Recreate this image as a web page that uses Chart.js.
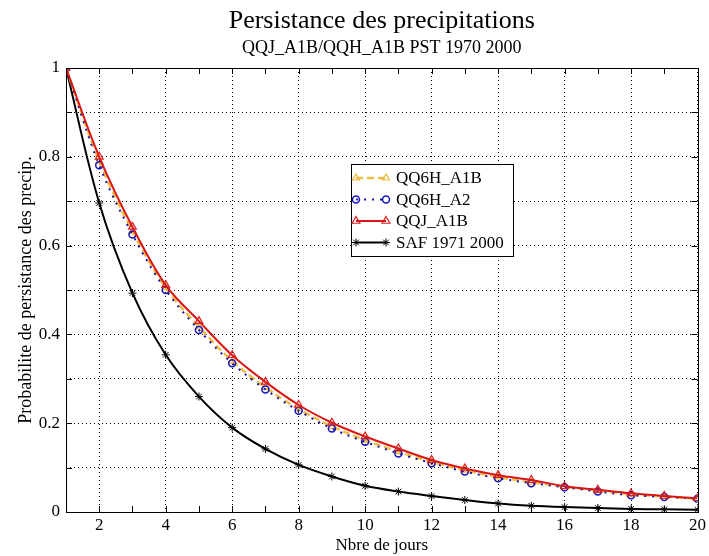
<!DOCTYPE html>
<html>
<head>
<meta charset="utf-8">
<script src="https://cdn.jsdelivr.net/npm/chart.js@4/dist/chart.umd.min.js"></script>
<style>
  html, body { margin: 0; padding: 0; background: #fff; }
  #wrap { width: 709px; height: 556px; position: relative; }
</style>
</head>
<body>
<div id="wrap"><canvas id="chart"></canvas></div>
<script>
// days 1..20
const days = [1, 2, 3, 4, 5, 6, 7, 8, 9, 10, 11, 12, 13, 14, 15, 16, 17, 18, 19, 20];

const qq6hA1B = [1.0, 0.79, 0.632, 0.505, 0.417, 0.34, 0.281, 0.232, 0.193, 0.162, 0.136, 0.113, 0.094, 0.079, 0.067, 0.057, 0.048, 0.04, 0.035, 0.03];
const qq6hA2 = [1.0, 0.781, 0.625, 0.5, 0.41, 0.335, 0.276, 0.228, 0.188, 0.158, 0.132, 0.11, 0.091, 0.076, 0.065, 0.056, 0.046, 0.038, 0.034, 0.03];
const qqjA1B = [1.0, 0.80, 0.642, 0.511, 0.43, 0.353, 0.293, 0.241, 0.201, 0.17, 0.143, 0.117, 0.098, 0.083, 0.072, 0.058, 0.05, 0.042, 0.036, 0.031];
const saf = [1.0, 0.696, 0.493, 0.354, 0.26, 0.19, 0.142, 0.106, 0.08, 0.059, 0.046, 0.036, 0.027, 0.019, 0.014, 0.011, 0.009, 0.007, 0.006, 0.005];

const seriesLabels = ['QQ6H_A1B', 'QQ6H_A2', 'QQJ_A1B', 'SAF 1971 2000'];

const xTicks = [2, 4, 6, 8, 10, 12, 14, 16, 18, 20];
const yTicks = [0, 0.2, 0.4, 0.6, 0.8, 1];

const titleText = 'Persistance des precipitations';
const subtitleText = 'QQJ_A1B/QQH_A1B PST 1970 2000';

const serif = 'Liberation Serif, Times New Roman, serif';

function pts(values) {
    return days.map((d, i) => ({ x: d, y: values[i] }));
}

// titles centred over the plot area, not the canvas
const plotTitles = {
    id: 'plotTitles',
    afterDraw(chart) {
        const ctx = chart.ctx;
        const a = chart.chartArea;
        const cx = (a.left + a.right) / 2;
        ctx.save();
        ctx.fillStyle = '#000';
        ctx.textAlign = 'center';
        ctx.textBaseline = 'alphabetic';
        ctx.font = '26px ' + serif;
        ctx.fillText(titleText, cx, 28);
        ctx.font = '18px ' + serif;
        ctx.fillText(subtitleText, cx, 53);
        ctx.restore();
    }
};

// inward tick marks + plot box
const frame = {
    id: 'frame',
    afterDatasetsDraw(chart) {
        const ctx = chart.ctx;
        const a = chart.chartArea;
        const xs = chart.scales.x;
        const ys = chart.scales.y;
        ctx.save();
        ctx.strokeStyle = '#000';
        ctx.lineWidth = 1;
        ctx.beginPath();
        for (const d of days) {
            const px = Math.round(xs.getPixelForValue(d)) + 0.5;
            ctx.moveTo(px, a.bottom); ctx.lineTo(px, a.bottom - 6);
            ctx.moveTo(px, a.top); ctx.lineTo(px, a.top + 6);
        }
        for (let v = 0; v <= 10; v++) {
            const py = Math.round(ys.getPixelForValue(v / 10)) + 0.5;
            ctx.moveTo(a.left, py); ctx.lineTo(a.left + 6, py);
            ctx.moveTo(a.right, py); ctx.lineTo(a.right - 6, py);
        }
        ctx.stroke();
        ctx.strokeRect(Math.round(a.left) + 0.5, Math.round(a.top) + 0.5,
            Math.round(a.right - a.left), Math.round(a.bottom - a.top));
        ctx.restore();
    }
};

// legend drawn inside the plot area
const boxLegend = {
    id: 'boxLegend',
    afterDraw(chart) {
        const ctx = chart.ctx;
        const x0 = 351, y0 = 164, w = 162, h = 92;
        ctx.save();
        ctx.fillStyle = '#fff';
        ctx.fillRect(x0, y0, w, h);
        ctx.strokeStyle = '#000';
        ctx.lineWidth = 1;
        ctx.strokeRect(x0 + 0.5, y0 + 0.5, w, h);
        ctx.font = '17px ' + serif;
        ctx.textBaseline = 'middle';
        chart.data.datasets.forEach((ds, i) => {
            const y = y0 + 14 + i * 21.5;
            ctx.strokeStyle = ds.borderColor;
            ctx.lineWidth = ds.borderWidth;
            ctx.setLineDash(ds.borderDash || []);
            ctx.beginPath();
            ctx.moveTo(x0 + 5, y); ctx.lineTo(x0 + 35, y);
            ctx.stroke();
            ctx.setLineDash([]);
            ctx.fillStyle = ds.pointBackgroundColor;
            ctx.strokeStyle = ds.pointBorderColor;
            ctx.lineWidth = ds.pointBorderWidth;
            const o = { pointStyle: ds.pointStyle, radius: ds.pointRadius, rotation: 0, borderWidth: ds.pointBorderWidth };
            Chart.helpers.drawPoint(ctx, o, x0 + 5, y);
            Chart.helpers.drawPoint(ctx, o, x0 + 35, y);
            ctx.fillStyle = '#000';
            ctx.fillText(ds.label, x0 + 45, y + 1);
        });
        ctx.restore();
    }
};

const chart = new Chart(document.getElementById('chart'), {
    type: 'line',
    data: {
        datasets: [
            {
                label: seriesLabels[0],
                data: pts(qq6hA1B),
                borderColor: 'rgb(240,190,70)',
                borderWidth: 2.5,
                borderDash: [7, 4],
                pointStyle: 'triangle',
                pointRadius: 4,
                pointBorderWidth: 1.2,
                pointBorderColor: 'rgb(235,185,60)',
                pointBackgroundColor: 'rgba(0,0,0,0)',
                order: 3
            },
            {
                label: seriesLabels[1],
                data: pts(qq6hA2),
                borderColor: 'rgb(20,20,170)',
                borderWidth: 2,
                borderDash: [2, 6],
                pointStyle: 'circle',
                pointRadius: 3.5,
                pointBorderWidth: 1.5,
                pointBorderColor: 'rgb(20,20,190)',
                pointBackgroundColor: 'rgba(0,0,0,0)',
                order: 2
            },
            {
                label: seriesLabels[2],
                data: pts(qqjA1B),
                borderColor: 'rgb(220,20,20)',
                borderWidth: 2,
                pointStyle: 'triangle',
                pointRadius: 4.5,
                pointBorderWidth: 1.2,
                pointBorderColor: 'rgb(220,30,30)',
                pointBackgroundColor: 'rgba(0,0,0,0)',
                order: 1
            },
            {
                label: seriesLabels[3],
                data: pts(saf),
                borderColor: '#000',
                borderWidth: 2,
                pointStyle: 'star',
                pointRadius: 4,
                pointBorderWidth: 1,
                pointBorderColor: '#000',
                pointBackgroundColor: '#000',
                order: 4
            }
        ]
    },
    options: {
        responsive: true,
        maintainAspectRatio: false,
        animation: false,
        layout: { padding: { left: 0, right: 9, top: 68, bottom: 0 } },
        elements: { line: { tension: 0.35 } },
        plugins: {
            legend: { display: false },
            tooltip: { enabled: false },
            title: { display: false },
            subtitle: { display: false }
        },
        scales: {
            x: {
                type: 'linear',
                min: 1,
                max: 20,
                afterBuildTicks(scale) {
                    scale.ticks = xTicks.map(v => ({ value: v }));
                },
                afterFit(scale) { scale.height = 44; },
                ticks: {
                    color: '#000',
                    font: { family: serif, size: 17 },
                    padding: 3,
                    maxRotation: 0
                },
                grid: { color: '#000', lineWidth: 1, drawTicks: false },
                border: { display: false, dash: [1, 3] },
                title: {
                    display: true,
                    text: 'Nbre de jours',
                    color: '#000',
                    font: { family: serif, size: 17 },
                    padding: { top: 0, bottom: 0 }
                }
            },
            y: {
                min: 0,
                max: 1,
                afterBuildTicks(scale) {
                    const t = [];
                    for (let v = 0; v <= 10; v++) t.push({ value: v / 10 });
                    scale.ticks = t;
                },
                afterFit(scale) { scale.width = 66; },
                ticks: {
                    color: '#000',
                    font: { family: serif, size: 17 },
                    padding: 6,
                    callback: (v) => {
                        const hit = yTicks.find(t => Math.abs(t - v) < 1e-6);
                        return hit === undefined ? '' : String(hit);
                    }
                },
                grid: { color: '#000', lineWidth: 1, drawTicks: false },
                border: { display: false, dash: [1, 3] },
                title: {
                    display: true,
                    text: 'Probabilite de persistance des precip.',
                    color: '#000',
                    font: { family: serif, size: 18 },
                    padding: { top: 15, bottom: 0 }
                }
            }
        }
    },
    plugins: [frame, boxLegend, plotTitles]
});
</script>
</body>
</html>
